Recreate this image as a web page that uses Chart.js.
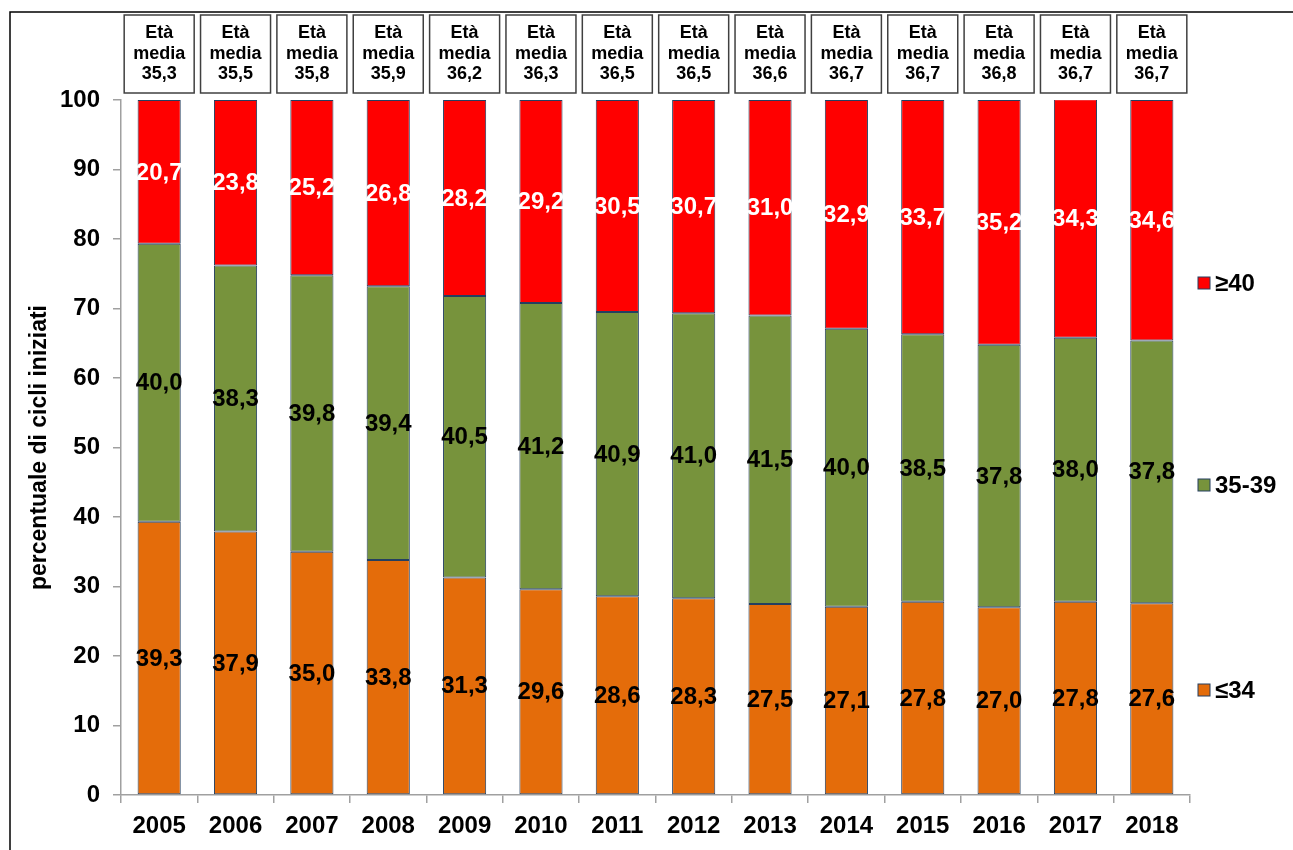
<!DOCTYPE html>
<html>
<head>
<meta charset="utf-8">
<script src="https://cdn.jsdelivr.net/npm/chart.js@4.4.1/dist/chart.umd.min.js"></script>
<style>
  body { margin: 0; background: #fff; }
  canvas { display: block; }
</style>
</head>
<body>
<canvas id="chart" width="1293" height="850"></canvas>
<script>
const years = ['2005', '2006', '2007', '2008', '2009', '2010', '2011', '2012', '2013', '2014', '2015', '2016', '2017', '2018']
const under35 = [39.3, 37.9, 35.0, 33.8, 31.3, 29.6, 28.6, 28.3, 27.5, 27.1, 27.8, 27.0, 27.8, 27.6]
const from35to39 = [40.0, 38.3, 39.8, 39.4, 40.5, 41.2, 40.9, 41.0, 41.5, 40.0, 38.5, 37.8, 38.0, 37.8]
const over40 = [20.7, 23.8, 25.2, 26.8, 28.2, 29.2, 30.5, 30.7, 31.0, 32.9, 33.7, 35.2, 34.3, 34.6]
const meanAge = [35.3, 35.5, 35.8, 35.9, 36.2, 36.3, 36.5, 36.5, 36.6, 36.7, 36.7, 36.8, 36.7, 36.7]
const yTicks = [0, 10, 20, 30, 40, 50, 60, 70, 80, 90, 100]

const FONT = 'Liberation Sans, Arial, sans-serif'
const fmt = v => v.toFixed(1).replace('.', ',')

// frame, segment labels, "Età media" boxes and the right-hand legend
const extras = {
  id: 'extras',
  beforeDraw(chart) {
    const ctx = chart.ctx
    ctx.save()
    ctx.strokeStyle = '#000'
    ctx.lineWidth = 1.5
    ctx.strokeRect(10, 12, 1400, 1000)
    ctx.restore()
  },
  afterDatasetsDraw(chart) {
    const ctx = chart.ctx
    ctx.save()
    ctx.font = `bold 24px ${FONT}`
    ctx.textAlign = 'center'
    ctx.textBaseline = 'middle'
    chart.data.datasets.forEach((ds, di) => {
      const meta = chart.getDatasetMeta(di)
      meta.data.forEach((bar, i) => {
        ctx.fillStyle = ds.labelColor
        ctx.fillText(fmt(ds.data[i]), bar.x, (bar.y + bar.base) / 2 + 1)
      })
    })
    ctx.restore()
  },
  afterDraw(chart) {
    const ctx = chart.ctx
    const xs = chart.scales.x
    ctx.save()
    ctx.textAlign = 'center'
    ctx.textBaseline = 'middle'
    meanAge.forEach((age, i) => {
      const cx = xs.getPixelForValue(i)
      const top = 15
      ctx.fillStyle = '#fff'
      ctx.fillRect(cx - 35, top, 70, 78)
      ctx.strokeStyle = '#404040'
      ctx.lineWidth = 1.5
      ctx.strokeRect(cx - 35, top, 70, 78)
      ctx.fillStyle = '#000'
      ctx.font = `bold 18px ${FONT}`
      ctx.fillText('Età', cx, top + 18)
      ctx.fillText('media', cx, top + 39)
      ctx.fillText(fmt(age), cx, top + 59)
    })

    const legendY = [283, 485, 690]
    const order = [2, 1, 0]
    ctx.textAlign = 'left'
    ctx.font = `bold 24px ${FONT}`
    order.forEach((di, k) => {
      const ds = chart.data.datasets[di]
      const y = legendY[k]
      ctx.fillStyle = ds.backgroundColor
      ctx.fillRect(1198, y - 6, 12, 12)
      ctx.strokeStyle = '#243F60'
      ctx.lineWidth = 1
      ctx.strokeRect(1198, y - 6, 12, 12)
      ctx.fillStyle = '#000'
      ctx.fillText(ds.label, 1215, y + 1)
    })
    ctx.restore()
  }
}

const ctx = document.getElementById('chart')

new Chart(ctx, {
  type: 'bar',
  data: {
    labels: years,
    datasets: [
      { label: '≤34', data: under35, backgroundColor: '#E46C0A', labelColor: '#000' },
      { label: '35-39', data: from35to39, backgroundColor: '#77933C', labelColor: '#000' },
      { label: '≥40', data: over40, backgroundColor: '#FF0000', labelColor: '#fff' }
    ].map(ds => ({
      ...ds,
      borderColor: '#243F60',
      borderWidth: 1,
      borderSkipped: false,
      barPercentage: 0.565,
      categoryPercentage: 1
    }))
  },
  options: {
    responsive: false,
    animation: false,
    layout: { padding: { top: 100, right: 103, left: 0, bottom: 0 } },
    plugins: {
      legend: { display: false },
      tooltip: { enabled: false }
    },
    scales: {
      x: {
        stacked: true,
        afterFit: s => { s.height = 55 },
        border: { color: '#A0A0A0', width: 1.5 },
        grid: { offset: true, drawOnChartArea: false, color: '#A0A0A0', tickLength: 8, lineWidth: 1.5 },
        ticks: { color: '#000', font: { family: FONT, size: 24, weight: 'bold' }, padding: 9 }
      },
      y: {
        stacked: true,
        min: 0,
        max: 100,
        afterFit: s => { s.width = 121 },
        afterBuildTicks: s => { s.ticks = yTicks.map(v => ({ value: v })) },
        border: { color: '#A0A0A0', width: 1.5 },
        grid: { drawOnChartArea: false, color: '#A0A0A0', tickLength: 8, lineWidth: 1.5 },
        ticks: { color: '#000', font: { family: FONT, size: 24, weight: 'bold' }, padding: 13 },
        title: {
          display: true,
          text: 'percentuale di cicli iniziati',
          color: '#000',
          font: { family: FONT, size: 23, weight: 'bold' },
          padding: { top: 26 }
        }
      }
    }
  },
  plugins: [extras]
})
</script>
</body>
</html>
